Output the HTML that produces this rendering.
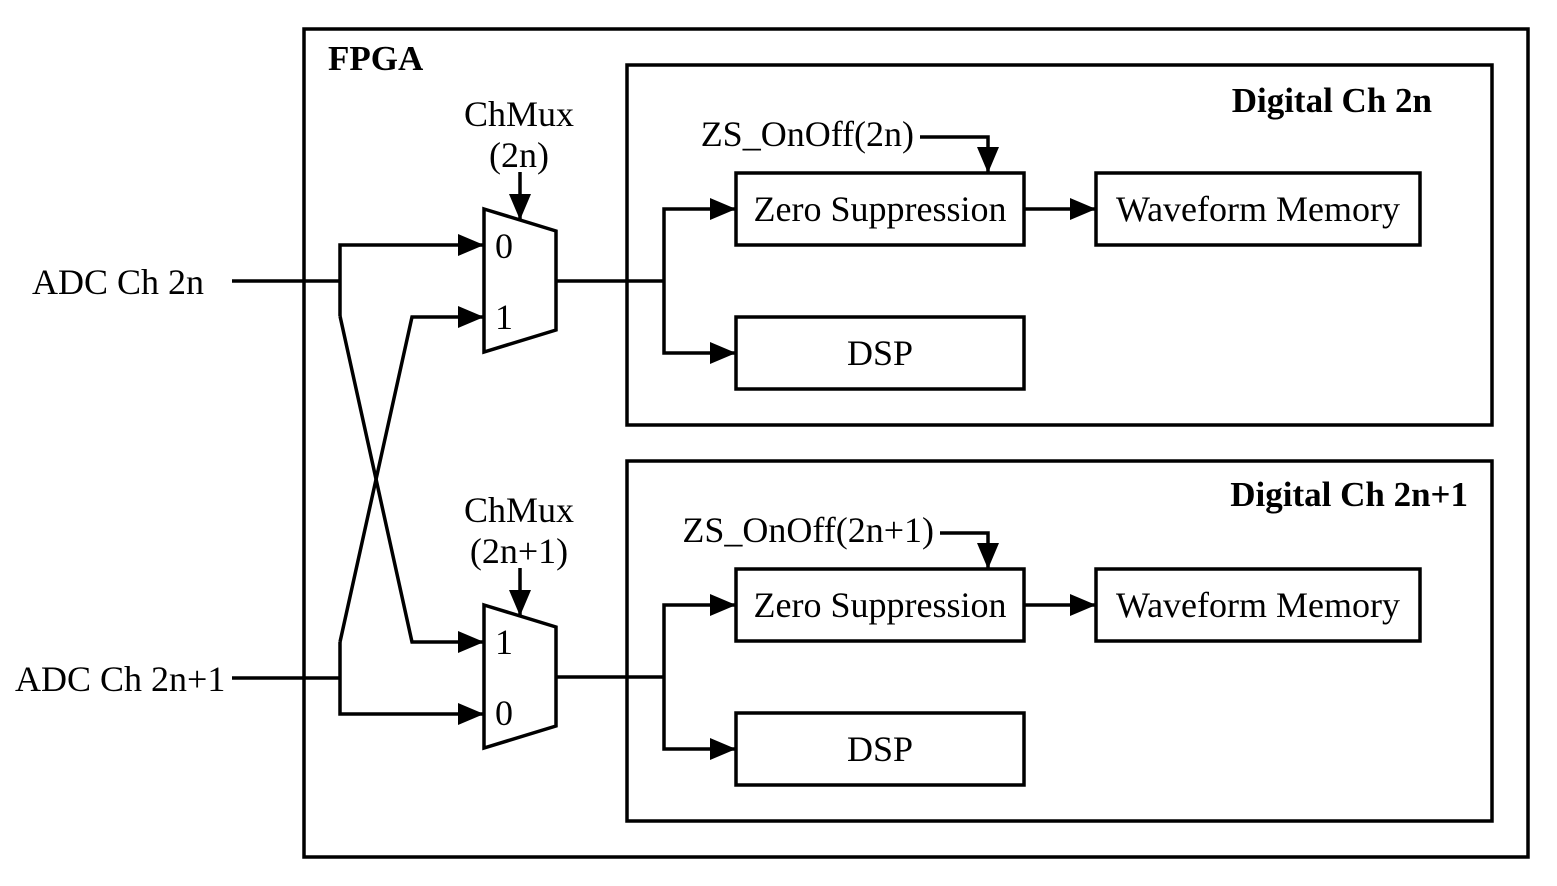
<!DOCTYPE html>
<html><head><style>html,body{margin:0;padding:0;background:#fff}svg{display:block}</style></head><body>
<svg width="1557" height="886" viewBox="0 0 1557 886" xmlns="http://www.w3.org/2000/svg" font-family="Liberation Serif, serif" font-size="36">
<defs>
<marker id="b" markerWidth="26" markerHeight="22" refX="26" refY="11" orient="auto" markerUnits="userSpaceOnUse"><path d="M0,0 L26,11 L0,22 z" fill="#000"/></marker></defs>
<g fill="none" stroke="#000" stroke-width="3.5">
<rect x="304" y="29" width="1224" height="828"/>
<rect x="627" y="65" width="865" height="360"/>
<rect x="627" y="461" width="865" height="360"/>
<polygon points="484,209 556,231 556,330 484,352"/>
<polygon points="484,605 556,627 556,726 484,748"/>
<path d="M520,172 V220" marker-end="url(#b)"/>
<path d="M520,568 V616" marker-end="url(#b)"/>
<path d="M232,281 H340"/>
<path d="M340,316 V245 H484" marker-end="url(#b)"/>
<path d="M340,316 L412,642 H484" marker-end="url(#b)"/>
<path d="M232,678 H340"/>
<path d="M340,642 V714 H484" marker-end="url(#b)"/>
<path d="M340,642 L412,317 H484" marker-end="url(#b)"/>
<g id="c">
<path d="M556,281 H664"/>
<path d="M664,281 V209 H736" marker-end="url(#b)"/>
<path d="M664,281 V353 H736" marker-end="url(#b)"/>
<rect x="736" y="173" width="288" height="72"/>
<rect x="736" y="317" width="288" height="72"/>
<rect x="1096" y="173" width="324" height="72"/>
<path d="M1024,209 H1096" marker-end="url(#b)"/>
</g>
<use href="#c" transform="translate(0,396)"/>
<path d="M920,137 H988 V173" marker-end="url(#b)"/>
<path d="M940,533 H988 V569" marker-end="url(#b)"/>
</g>
<text x="328" y="70" font-weight="bold" font-size="35">FPGA</text>
<text x="1432" y="112" font-weight="bold" font-size="35" text-anchor="end">Digital Ch 2n</text>
<text x="1468" y="506" font-weight="bold" font-size="35" text-anchor="end">Digital Ch 2n+1</text>
<text x="519" y="126" text-anchor="middle">ChMux</text>
<text x="519" y="167" text-anchor="middle">(2n)</text>
<text x="519" y="522" text-anchor="middle">ChMux</text>
<text x="519" y="563" text-anchor="middle">(2n+1)</text>
<text x="32" y="294">ADC Ch 2n</text>
<text x="15" y="691">ADC Ch 2n+1</text>
<text x="495" y="258">0</text><text x="495" y="329">1</text>
<text x="495" y="654">1</text><text x="495" y="725">0</text>
<text x="880" y="221" text-anchor="middle">Zero Suppression</text>
<text x="880" y="365" text-anchor="middle">DSP</text>
<text x="1258" y="221" text-anchor="middle">Waveform Memory</text>
<text x="914" y="146" text-anchor="end">ZS_OnOff(2n)</text>
<text x="880" y="617" text-anchor="middle">Zero Suppression</text>
<text x="880" y="761" text-anchor="middle">DSP</text>
<text x="1258" y="617" text-anchor="middle">Waveform Memory</text>
<text x="934" y="542" text-anchor="end">ZS_OnOff(2n+1)</text>
</svg>
</body></html>
